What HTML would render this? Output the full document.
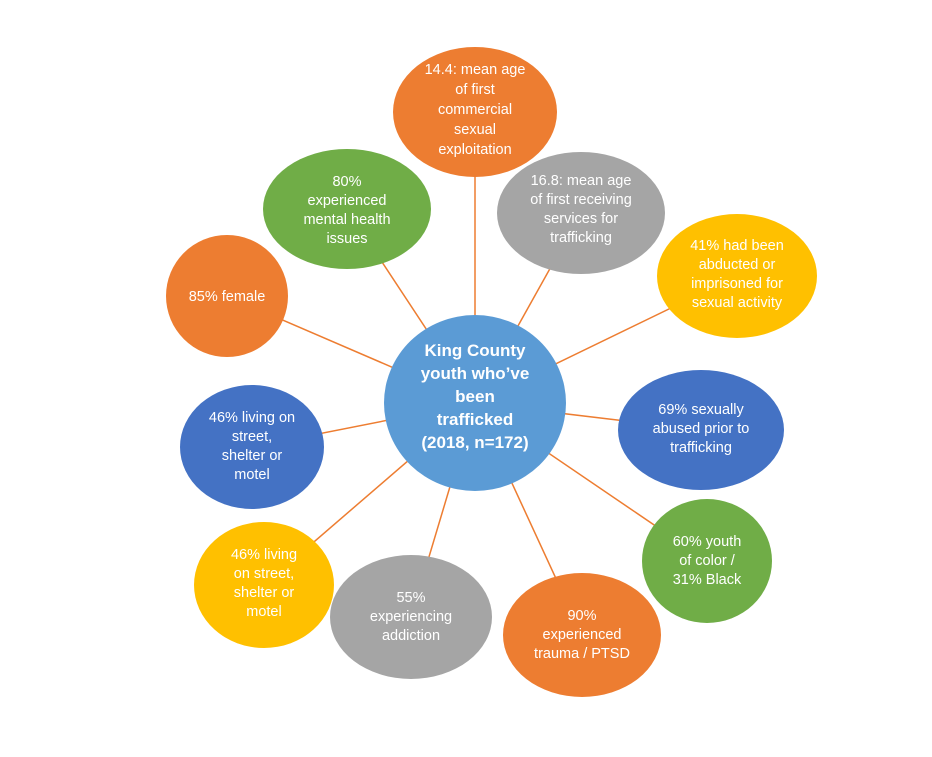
<!DOCTYPE html>
<html><head><meta charset="utf-8"><style>
body{margin:0;background:#fff;}
svg text{font-family:"Liberation Sans",sans-serif;fill:#fff;font-size:14.5px;text-anchor:middle;}
</style></head><body>
<svg width="932" height="752" xmlns="http://www.w3.org/2000/svg">
<g stroke="#ED7D31" stroke-width="1.5">
<line x1="475" y1="403" x2="475" y2="112"/>
<line x1="475" y1="403" x2="581" y2="213"/>
<line x1="475" y1="403" x2="737" y2="276"/>
<line x1="475" y1="403" x2="701" y2="430"/>
<line x1="475" y1="403" x2="707" y2="561"/>
<line x1="475" y1="403" x2="582" y2="635"/>
<line x1="475" y1="403" x2="411" y2="617"/>
<line x1="475" y1="403" x2="264" y2="585"/>
<line x1="475" y1="403" x2="252" y2="447"/>
<line x1="475" y1="403" x2="227" y2="296"/>
<line x1="475" y1="403" x2="347" y2="209"/>
</g>
<ellipse cx="475" cy="112" rx="82" ry="65" fill="#ED7D31"/>
<ellipse cx="581" cy="213" rx="84" ry="61" fill="#A5A5A5"/>
<ellipse cx="737" cy="276" rx="80" ry="62" fill="#FFC000"/>
<ellipse cx="701" cy="430" rx="83" ry="60" fill="#4472C4"/>
<ellipse cx="707" cy="561" rx="65" ry="62" fill="#70AD47"/>
<ellipse cx="582" cy="635" rx="79" ry="62" fill="#ED7D31"/>
<ellipse cx="411" cy="617" rx="81" ry="62" fill="#A5A5A5"/>
<ellipse cx="264" cy="585" rx="70" ry="63" fill="#FFC000"/>
<ellipse cx="252" cy="447" rx="72" ry="62" fill="#4472C4"/>
<ellipse cx="227" cy="296" rx="61" ry="61" fill="#ED7D31"/>
<ellipse cx="347" cy="209" rx="84" ry="60" fill="#70AD47"/>
<ellipse cx="475" cy="403" rx="91" ry="88" fill="#5B9BD5"/>

<text y="74"><tspan x="475">14.4: mean age</tspan><tspan x="475" dy="20">of first</tspan><tspan x="475" dy="20">commercial</tspan><tspan x="475" dy="20">sexual</tspan><tspan x="475" dy="20">exploitation</tspan></text>
<text y="185"><tspan x="581">16.8: mean age</tspan><tspan x="581" dy="19">of first receiving</tspan><tspan x="581" dy="19">services for</tspan><tspan x="581" dy="19">trafficking</tspan></text>
<text y="250"><tspan x="737">41% had been</tspan><tspan x="737" dy="19">abducted or</tspan><tspan x="737" dy="19">imprisoned for</tspan><tspan x="737" dy="19">sexual activity</tspan></text>
<text y="414"><tspan x="701">69% sexually</tspan><tspan x="701" dy="19">abused prior to</tspan><tspan x="701" dy="19">trafficking</tspan></text>
<text y="546"><tspan x="707">60% youth</tspan><tspan x="707" dy="19">of color /</tspan><tspan x="707" dy="19">31% Black</tspan></text>
<text y="620"><tspan x="582">90%</tspan><tspan x="582" dy="19">experienced</tspan><tspan x="582" dy="19">trauma / PTSD</tspan></text>
<text y="602"><tspan x="411">55%</tspan><tspan x="411" dy="19">experiencing</tspan><tspan x="411" dy="19">addiction</tspan></text>
<text y="559"><tspan x="264">46% living</tspan><tspan x="264" dy="19">on street,</tspan><tspan x="264" dy="19">shelter or</tspan><tspan x="264" dy="19">motel</tspan></text>
<text y="422"><tspan x="252">46% living on</tspan><tspan x="252" dy="19">street,</tspan><tspan x="252" dy="19">shelter or</tspan><tspan x="252" dy="19">motel</tspan></text>
<text x="227" y="301">85% female</text>
<text y="186"><tspan x="347">80%</tspan><tspan x="347" dy="19">experienced</tspan><tspan x="347" dy="19">mental health</tspan><tspan x="347" dy="19">issues</tspan></text>
<text y="356" style="font-size:17px;font-weight:bold"><tspan x="475">King County</tspan><tspan x="475" dy="23">youth who’ve</tspan><tspan x="475" dy="23">been</tspan><tspan x="475" dy="23">trafficked</tspan><tspan x="475" dy="23">(2018, n=172)</tspan></text>
</svg>
</body></html>
